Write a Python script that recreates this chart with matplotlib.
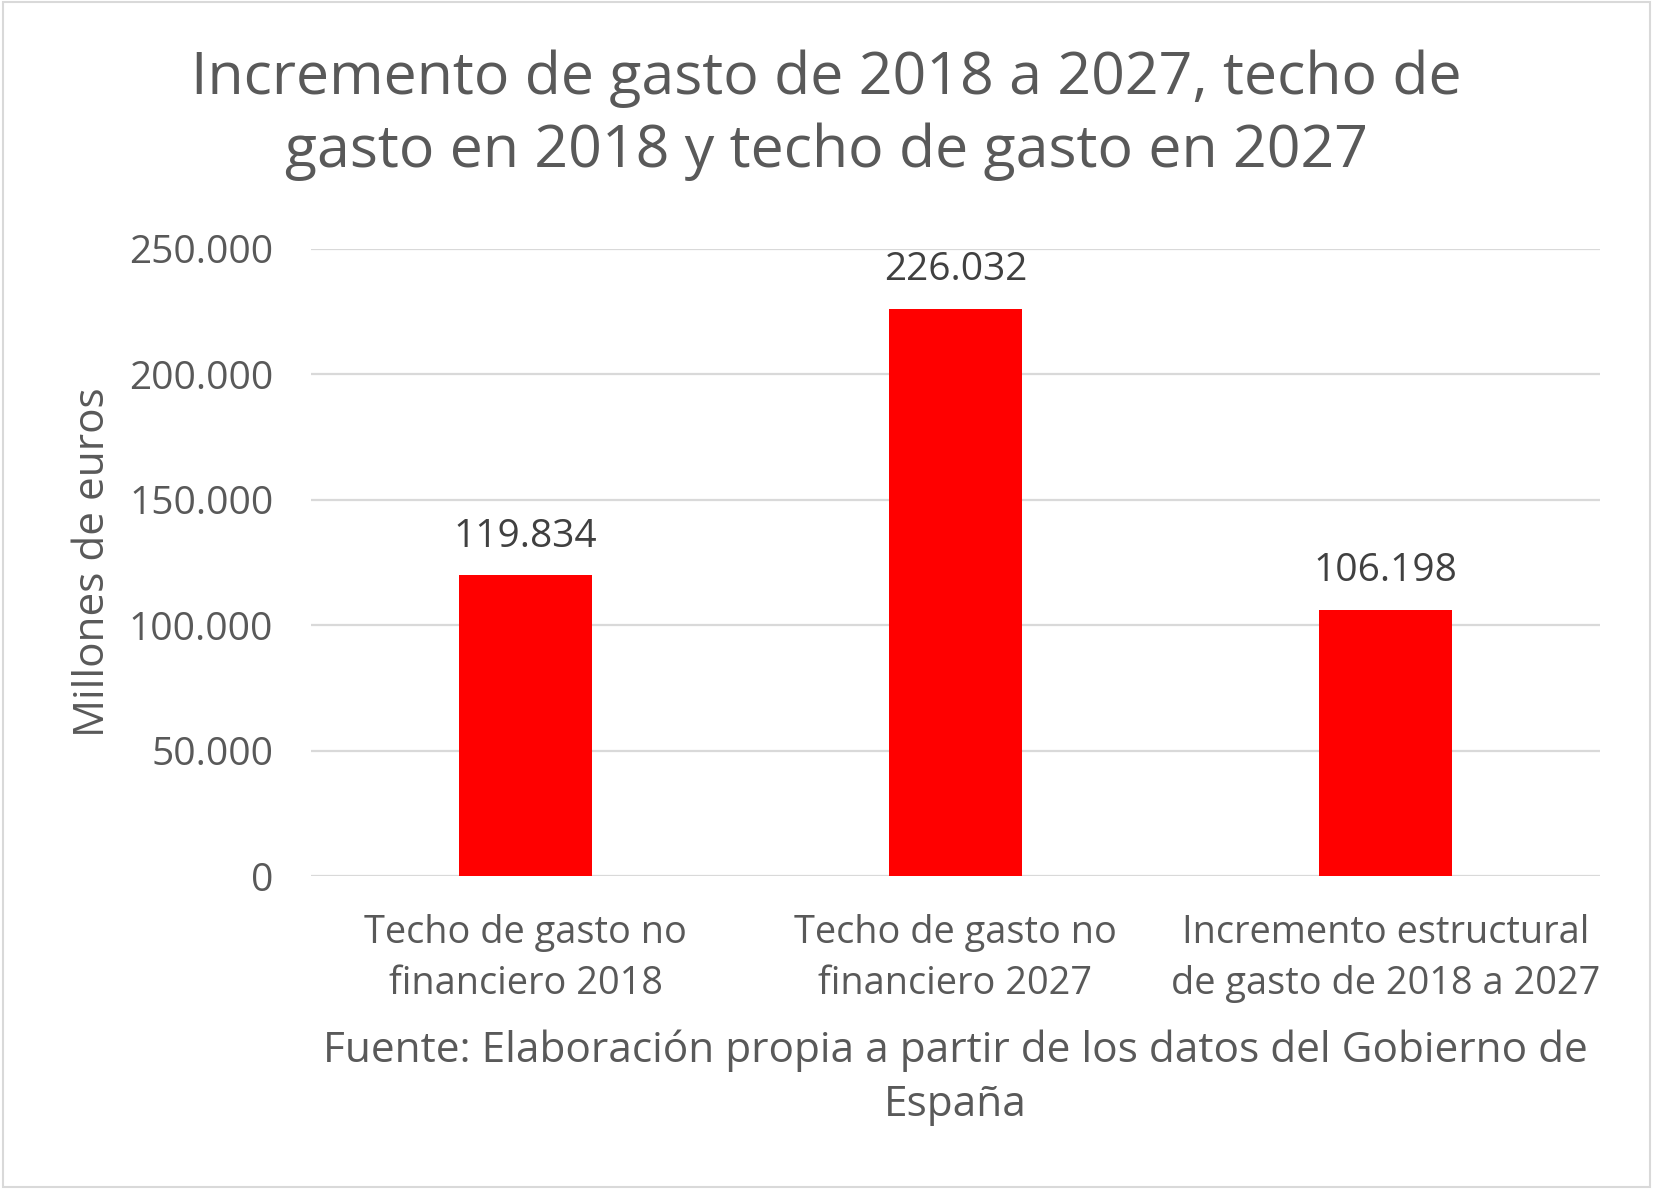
import matplotlib.pyplot as plt
from matplotlib.patches import Rectangle

# data
categories = ['Techo de gasto no\nfinanciero 2018',
              'Techo de gasto no\nfinanciero 2027',
              'Incremento estructural\nde gasto de 2018 a 2027']
values = [119834, 226032, 106198]
y_ticks = [0, 50000, 100000, 150000, 200000, 250000]

TEXT = '#595959'
plt.rcParams['font.family'] = ['Open Sans', 'DejaVu Sans']


def fmt(v):
    return f'{v:,.0f}'.replace(',', '.')


fig = plt.figure(figsize=(16.53, 11.89), dpi=100)
ax = fig.add_axes([0.188, 0.263, 0.78, 0.528])

x = range(len(categories))
ax.bar(x, values, width=0.31, color='#FF0000', zorder=3)
for xi, v in zip(x, values):
    ax.annotate(fmt(v), (xi, v), xytext=(0, 14), textcoords='offset points',
                ha='center', va='bottom', fontsize=28, color='#404040')

ax.set_xlim(-0.5, len(categories) - 0.5)
ax.set_ylim(0, 250000)
ax.set_yticks(y_ticks)
ax.set_yticklabels([fmt(t) for t in y_ticks])
ax.set_xticks(list(x))
ax.set_xticklabels(categories, linespacing=1.47)
ax.tick_params(axis='both', length=0, labelcolor=TEXT)
ax.tick_params(axis='y', pad=27, labelsize=28)
ax.tick_params(axis='x', pad=27, labelsize=27.3)
ax.grid(axis='y', color='#D9D9D9', linewidth=1.6, zorder=0)
for s in ax.spines.values():
    s.set_visible(False)

ax.set_ylabel('Millones de euros', fontsize=30.4, color=TEXT, labelpad=11)
ax.set_xlabel('Fuente: Elaboración propia a partir de los datos del Gobierno de\nEspaña',
              fontsize=30.5, color=TEXT, labelpad=19, linespacing=1.35)

fig.text(0.5, 0.903, 'Incremento de gasto de 2018 a 2027, techo de\ngasto en 2018 y techo de gasto en 2027',
         ha='center', va='center', fontsize=42.5, color=TEXT, linespacing=1.33)

fig.patches.append(Rectangle((0.002, 0.002), 0.996, 0.996, transform=fig.transFigure,
                             fill=False, edgecolor='#D9D9D9', linewidth=1.5))

fig.savefig('out.png', dpi=100)
